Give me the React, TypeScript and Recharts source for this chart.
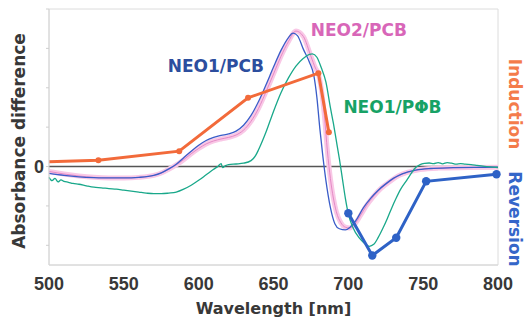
import { LineChart, Line, XAxis, YAxis, ReferenceLine, ReferenceArea, ReferenceDot } from 'recharts'

// spectra: [wavelength nm, absorbance difference (arb.)]
const neo1Pcb: [number, number][] = [
  [500, -0.35], [510, -0.45], [520, -0.52], [530, -0.56], [540, -0.58], [550, -0.58], [560, -0.55],
  [570, -0.45], [575, -0.32], [580, -0.12], [585, 0.12], [590, 0.45], [595, 0.78], [600, 1.08],
  [605, 1.32], [610, 1.48], [615, 1.58], [620, 1.66], [625, 1.8], [630, 2.1], [635, 2.6], [640, 3.3],
  [645, 4.15], [650, 5.05], [655, 5.9], [660, 6.55], [663, 6.77], [666, 6.65], [670, 5.95], [674, 5.3],
  [677, 4.6], [679, 3.5], [681, 1.9], [683, 0.5], [685, -0.7], [688, -2.07], [691, -2.9], [694, -3.16],
  [698, -3.22], [701, -3.1], [705, -2.75], [710, -2.1], [715, -1.6], [720, -1.2], [725, -0.88],
  [730, -0.6], [736, -0.37], [745, -0.18], [755, -0.1], [770, -0.06], [785, -0.04], [800, -0.03],
]

const neo2Pcb: [number, number][] = [
  [500, -0.25], [510, -0.38], [520, -0.48], [530, -0.55], [540, -0.58], [550, -0.58], [560, -0.55],
  [570, -0.45], [575, -0.33], [580, -0.14], [585, 0.08], [590, 0.35], [595, 0.65], [600, 0.92],
  [605, 1.15], [610, 1.3], [615, 1.4], [620, 1.48], [625, 1.6], [630, 1.85], [635, 2.3], [640, 2.95],
  [645, 3.8], [650, 4.7], [655, 5.6], [660, 6.35], [665, 6.88], [670, 6.6], [675, 5.6], [678, 5.0],
  [680, 4.7], [682, 3.9], [684, 2.6], [686, 0.8], [688, -0.6], [690, -1.6], [692, -2.3], [695, -2.85],
  [698, -3.08], [701, -3.12], [704, -2.95], [708, -2.5], [712, -2.0], [717, -1.5], [722, -1.1],
  [728, -0.75], [734, -0.45], [740, -0.28], [748, -0.15], [760, -0.08], [780, -0.05], [800, -0.03],
]

const neo1Ppb: [number, number][] = [
  [500, -0.55], [502, -0.72], [504, -0.6], [506, -0.78], [508, -0.68], [510, -0.75], [513, -0.8],
  [516, -0.86], [520, -0.9], [525, -0.98], [530, -1.05], [535, -1.08], [540, -1.12], [545, -1.15],
  [550, -1.2], [555, -1.25], [560, -1.3], [565, -1.35], [570, -1.38], [575, -1.38], [580, -1.35],
  [585, -1.3], [590, -1.15], [595, -0.95], [600, -0.7], [605, -0.42], [610, -0.14], [613, 0.02],
  [615, 0.15], [616, -0.05], [618, 0.05], [620, 0.1], [625, 0.13], [630, 0.17], [635, 0.3], [638, 0.55],
  [640, 0.85], [645, 1.75], [650, 2.8], [655, 3.75], [660, 4.5], [665, 5.1], [670, 5.5], [674, 5.7],
  [676, 5.72], [679, 5.55], [682, 5.0], [685, 4.3], [688, 3.0], [690, 2.2], [692, 1.3], [694, 0.4],
  [696, -0.6], [698, -1.6], [700, -2.4], [703, -3.08], [707, -3.6], [710, -3.84], [714, -4.05],
  [717, -3.95], [720, -3.6], [723, -3.15], [726, -2.65], [729, -2.1], [732, -1.6], [735, -1.15],
  [739, -0.7], [742, -0.35], [745, -0.05], [748, 0.1], [751, 0.16], [754, 0.18], [757, 0.15],
  [760, 0.2], [763, 0.14], [766, 0.2], [769, 0.17], [772, 0.12], [775, 0.15], [778, 0.12], [782, 0.1],
  [786, 0.06], [790, 0.02], [795, -0.02], [800, -0.05],
]

// action spectra
const induction: [number, number][] = [[500, 0.24], [533, 0.32], [587, 0.78], [633, 3.49], [680, 4.74], [687, 1.74]]
const reversion: [number, number][] = [[700, -2.37], [716, -4.52], [732, -3.62], [752, -0.75], [799, -0.39]]

const xTicks = [500, 550, 600, 650, 700, 750, 800]
const yTicks = [-5, -4, -3, -2, -1, 0, 1, 2, 3, 4, 5, 6, 7, 8]

const seriesLabels = [
  { text: 'NEO1/PCB', x: 611.5, y: 5.13, color: '#2c4e9e' },
  { text: 'NEO2/PCB', x: 707, y: 6.95, color: '#d866b8' },
  { text: 'NEO1/PΦB', x: 729.5, y: 3.0, color: '#17a266' },
]

const pts = (arr: [number, number][]) => arr.map(([x, y]) => ({ x, y }))

const LABEL_FONT = '"DejaVu Sans", sans-serif'
const TICK_FONT = '"Liberation Sans", Arial, sans-serif'
const TEXT = '#383838'

// eslint-disable-next-line @typescript-eslint/no-explicit-any
function XTick({ x, y, payload }: any) {
  return (
    <text x={x} y={y + 25} textAnchor="middle" fill={TEXT} fontSize={18} fontWeight="bold" fontFamily={TICK_FONT}>
      {payload.value}
    </text>
  )
}

// eslint-disable-next-line @typescript-eslint/no-explicit-any
function YTick({ x, y, payload }: any) {
  if (payload.value !== 0) return <g />
  return (
    <text x={x - 2} y={y + 6} textAnchor="end" fill={TEXT} fontSize={18} fontWeight="bold" fontFamily={TICK_FONT}>
      0
    </text>
  )
}

// eslint-disable-next-line @typescript-eslint/no-explicit-any
function orangeDot(p: any) {
  if (p.index === 0) return <g key={`o${p.index}`} />
  return <circle key={`o${p.index}`} cx={p.cx} cy={p.cy} r={3} fill="#f26a3a" />
}

// eslint-disable-next-line @typescript-eslint/no-explicit-any
function blueDot(p: any) {
  return <circle key={`b${p.index}`} cx={p.cx} cy={p.cy} r={4.2} fill="#2e62c6" />
}

export default function App() {
  return (
    <div style={{ position: 'absolute', left: 0, top: 0, width: 525, height: 320, background: '#fff' }}>
      <LineChart width={525} height={320} margin={{ top: 9, right: 0, bottom: 0, left: 19 }}>
        <ReferenceArea x1={500} x2={800} y1={-5} y2={8} fill="none" stroke="#dcdcdc" ifOverflow="visible" />
        <XAxis
          dataKey="x"
          type="number"
          domain={[500, 800]}
          ticks={xTicks}
          height={55}
          tickLine={false}
          tickSize={0}
          tickMargin={0}
          axisLine={{ stroke: '#d6d6d6' }}
          tick={<XTick />}
          label={(p: any) => (
            <text
              x={p.viewBox.x + p.viewBox.width / 2}
              y={p.viewBox.y + 49}
              textAnchor="middle"
              fill={TEXT}
              fontSize={16}
              fontWeight="bold"
              fontFamily={LABEL_FONT}
            >
              Wavelength [nm]
            </text>
          )}
        />
        <YAxis
          dataKey="y"
          type="number"
          domain={[-5, 8]}
          ticks={yTicks}
          width={30}
          tickSize={3}
          tickMargin={0}
          tickLine={{ stroke: '#cfcfcf' }}
          axisLine={{ stroke: '#d6d6d6' }}
          tick={<YTick />}
          label={(p: any) => (
            <text
              x={25}
              y={p.viewBox.y + p.viewBox.height / 2 + 4}
              transform={`rotate(-90, 25, ${p.viewBox.y + p.viewBox.height / 2 + 4})`}
              textAnchor="middle"
              fill={TEXT}
              fontSize={17}
              fontWeight="bold"
              fontFamily={LABEL_FONT}
            >
              Absorbance difference
            </text>
          )}
        />
        <YAxis
          yAxisId="right"
          orientation="right"
          width={27}
          tick={false}
          axisLine={false}
          tickLine={false}
          label={() => (
            <g fontSize={17} fontWeight="bold" fontFamily={LABEL_FONT} textAnchor="middle">
              <text x={509} y={104} transform="rotate(90, 509, 104)" fill="#f47b4b">
                Induction
              </text>
              <text x={509} y={219} transform="rotate(90, 509, 219)" fill="#3566c9">
                Reversion
              </text>
            </g>
          )}
        />
        <ReferenceLine y={0} stroke="#555" strokeWidth={1.6} />

        <Line data={pts(neo2Pcb)} dataKey="y" type="monotone" stroke="#f9c8e6" strokeWidth={5} dot={false} isAnimationActive={false} />
        <Line data={pts(neo2Pcb)} dataKey="y" type="monotone" stroke="#e58ac6" strokeWidth={1} dot={false} isAnimationActive={false} />
        <Line data={pts(neo1Pcb)} dataKey="y" type="monotone" stroke="#3a5cc8" strokeWidth={1.3} dot={false} isAnimationActive={false} />
        <Line data={pts(neo1Ppb)} dataKey="y" type="monotone" stroke="#19a88a" strokeWidth={1.3} dot={false} isAnimationActive={false} />
        <Line data={pts(induction)} dataKey="y" type="linear" stroke="#f26a3a" strokeWidth={3} dot={orangeDot} isAnimationActive={false} />
        <Line data={pts(reversion)} dataKey="y" type="linear" stroke="#2e62c6" strokeWidth={3} dot={blueDot} isAnimationActive={false} />

        {seriesLabels.map((l) => (
          <ReferenceDot
            key={l.text}
            x={l.x}
            y={l.y}
            r={0}
            fill="none"
            stroke="none"
            ifOverflow="visible"
            label={{
              value: l.text,
              position: 'center',
              fill: l.color,
              fontSize: 17,
              fontWeight: 'bold',
              fontFamily: LABEL_FONT,
            }}
          />
        ))}
      </LineChart>
    </div>
  )
}
